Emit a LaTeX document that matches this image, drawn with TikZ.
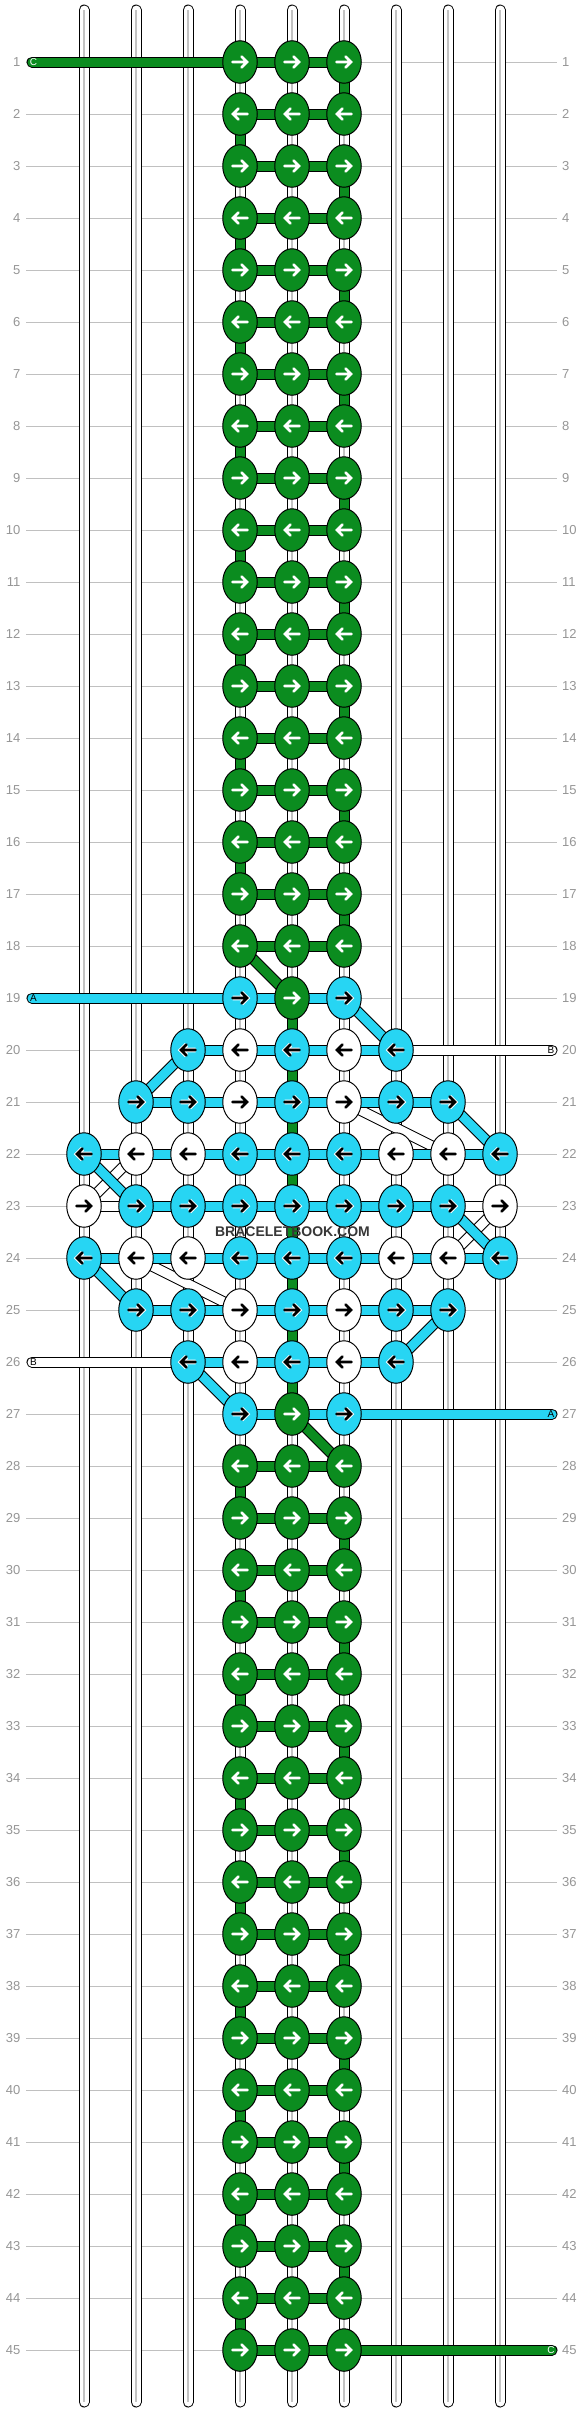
\documentclass[tikz,border=0pt]{standalone}
\usepackage{fontspec}
\setmainfont{Liberation Sans}
\usetikzlibrary{shapes.geometric}
\definecolor{kgreen}{RGB}{11,140,31}
\definecolor{kcyan}{RGB}{39,213,243}
\definecolor{lblgray}{RGB}{150,150,150}
\definecolor{rowgray}{RGB}{192,192,192}
\definecolor{ctrgray}{RGB}{195,195,195}
\definecolor{wmark}{RGB}{55,55,55}
\newcommand\arR[2]{\draw[#2,line cap=round,line join=miter] ([xshift=-7.5pt]#1.center) -- ([xshift=7pt]#1.center) ([xshift=1.5pt,yshift=5.5pt]#1.center) -- ([xshift=7pt]#1.center) -- ([xshift=1.5pt,yshift=-5.5pt]#1.center);}
\newcommand\arL[2]{\draw[#2,line cap=round,line join=miter] ([xshift=7.5pt]#1.center) -- ([xshift=-7pt]#1.center) ([xshift=-1.5pt,yshift=5.5pt]#1.center) -- ([xshift=-7pt]#1.center) -- ([xshift=-1.5pt,yshift=-5.5pt]#1.center);}
\newcommand\gseg[1]{\ifodd#1\relax\def\cc{5}\else\def\cc{3}\fi\pgfmathtruncatemacro\rn{#1+1}\draw[band=kgreen] (p#1-\cc) -- (p\rn-\cc);}
\newcommand\gconn[1]{\draw[band=kgreen] (p#1-3) -- (p#1-5);}
\newcommand\gknots[1]{\foreach \c in {3,4,5}{\node[knot,fill=kgreen] (k#1-\c) at (p#1-\c) {};\ifodd#1\relax\arR{k#1-\c}{aG}\else\arL{k#1-\c}{aG}\fi}}
\begin{document}
\begin{tikzpicture}[x=1pt,y=-1pt,
 band/.style={draw=black, line width=1pt, double=#1, double distance=9pt},
 wstrand/.style={band=white, line cap=round},
 gcenter/.style={draw=ctrgray, line width=1.6pt},
 hstrand/.style={band=#1, line cap=round},
 knot/.style={ellipse, draw=black, line width=1pt, minimum width=34.5pt, minimum height=42.5pt, inner sep=0pt},
 aG/.style={draw=white, line width=2.6pt},
 aC/.style={draw=black, line width=2.6pt, preaction={draw=white, line width=4.6pt}},
 aW/.style={draw=black, line width=2.6pt},
 rowline/.style={draw=rowgray, line width=1pt},
 rowlbl/.style={text=lblgray, font=\fontsize{13}{13}\selectfont, inner sep=0pt},
 slbl/.style={font=\fontsize{10}{10}\selectfont, inner sep=0pt}
]
\fill[white] (0,0) rectangle (584,2412);
\useasboundingbox (0,0) rectangle (584,2412);
% grid coordinates
\foreach \r in {1,...,45}{\foreach \c in {0,...,8}{\coordinate (p\r-\c) at ({84+52*\c},{62+52*(\r-1)});}}
% row lines and labels
\foreach \r in {1,...,45}{
 \coordinate (rl\r) at (26,{62+52*(\r-1)});
 \coordinate (rr\r) at (557,{62+52*(\r-1)});
 \draw[rowline] (rl\r) -- (rr\r);
 \node[rowlbl, anchor=east] (ll\r) at (20.5,{62+52*(\r-1)}) {\r};
 \node[rowlbl, anchor=west] (lr\r) at (562,{62+52*(\r-1)}) {\r};
}
% vertical white strands
\foreach \c in {0,...,8}{
 \coordinate (st\c) at ({84+52*\c},10);
 \coordinate (sb\c) at ({84+52*\c},2402);
 \draw[wstrand] (st\c) -- (sb\c);
 \draw[gcenter] (st\c) -- (sb\c);
}
% white diagonals
\foreach \a/\b in {22-1/23-0, 23-8/24-7, 21-5/22-7, 24-1/25-3} \draw[band=white] (p\a) -- (p\b);
% green vertical segments
\foreach \r in {1,...,17}{\gseg{\r}}
\foreach \r in {28,...,44}{\gseg{\r}}
\foreach \r in {19,...,26}{\pgfmathtruncatemacro\rn{\r+1}\draw[band=kgreen] (p\r-4) -- (p\rn-4);}
% coloured diagonals
\draw[band=kgreen] (p18-3) -- (p19-4);
\draw[band=kgreen] (p27-4) -- (p28-5);
\foreach \a/\b in {19-5/20-6, 20-2/21-1, 21-7/22-8, 22-0/23-1, 23-7/24-8, 24-0/25-1, 25-7/26-6, 26-2/27-3} \draw[band=kcyan] (p\a) -- (p\b);
% horizontal connectors
\foreach \r in {1,...,18}{\gconn{\r}}
\foreach \r in {28,...,45}{\gconn{\r}}
\foreach \r/\u/\v in {19/3/5, 27/3/5, 20/2/6, 26/2/6, 21/1/7, 25/1/7, 22/0/8, 24/0/8, 23/1/7} \draw[band=kcyan] (p\r-\u) -- (p\r-\v);
\draw[band=white] (p23-0) -- (p23-1);
\draw[band=white] (p23-7) -- (p23-8);
% free strands
\coordinate (cL) at (32,62); \coordinate (cR) at (552,2350);
\coordinate (aL) at (32,998); \coordinate (aR) at (552,1414);
\coordinate (bR) at (552,1050); \coordinate (bL) at (32,1362);
\draw[hstrand=kgreen] (cL) -- (p1-3);
\draw[hstrand=kgreen] (p45-5) -- (cR);
\draw[hstrand=kcyan] (aL) -- (p19-3);
\draw[hstrand=kcyan] (p27-5) -- (aR);
\draw[hstrand=white] (p20-6) -- (bR);
\draw[hstrand=white] (bL) -- (p26-2);
\node[slbl, text=white] (lc1) at (33.5,62) {C};
\node[slbl, text=white] (lc2) at (551,2350) {C};
\node[slbl] (la1) at (33.5,998) {A};
\node[slbl] (la2) at (551,1414) {A};
\node[slbl] (lb1) at (551,1050) {B};
\node[slbl] (lb2) at (33.5,1362) {B};
% knots
\foreach \r in {1,...,18}{\gknots{\r}}
\foreach \r in {28,...,45}{\gknots{\r}}
\foreach \r/\lst in {
 19/{3/kcyan/aC,4/kgreen/aG,5/kcyan/aC},
 20/{2/kcyan/aC,3/white/aW,4/kcyan/aC,5/white/aW,6/kcyan/aC},
 21/{1/kcyan/aC,2/kcyan/aC,3/white/aW,4/kcyan/aC,5/white/aW,6/kcyan/aC,7/kcyan/aC},
 22/{0/kcyan/aC,1/white/aW,2/white/aW,3/kcyan/aC,4/kcyan/aC,5/kcyan/aC,6/white/aW,7/white/aW,8/kcyan/aC},
 23/{0/white/aW,1/kcyan/aC,2/kcyan/aC,3/kcyan/aC,4/kcyan/aC,5/kcyan/aC,6/kcyan/aC,7/kcyan/aC,8/white/aW},
 24/{0/kcyan/aC,1/white/aW,2/white/aW,3/kcyan/aC,4/kcyan/aC,5/kcyan/aC,6/white/aW,7/white/aW,8/kcyan/aC},
 25/{1/kcyan/aC,2/kcyan/aC,3/white/aW,4/kcyan/aC,5/white/aW,6/kcyan/aC,7/kcyan/aC},
 26/{2/kcyan/aC,3/white/aW,4/kcyan/aC,5/white/aW,6/kcyan/aC},
 27/{3/kcyan/aC,4/kgreen/aG,5/kcyan/aC}}{
 \foreach \c/\col/\ast in \lst {
  \node[knot, fill=\col] (k\r-\c) at (p\r-\c) {};
  \ifodd\r\relax\arR{k\r-\c}{\ast}\else\arL{k\r-\c}{\ast}\fi
 }
}
% watermark
\node[font=\bfseries\fontsize{14}{14}\selectfont, text=wmark, inner sep=0pt] (wm) at (292.5,1232) {BRACELETBOOK.COM};
\end{tikzpicture}
\end{document}
